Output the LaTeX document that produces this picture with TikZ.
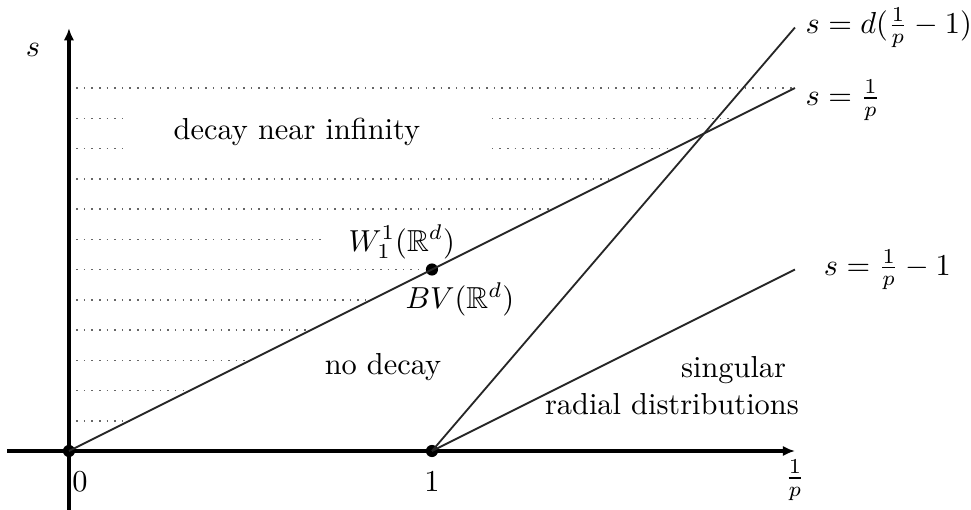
\documentclass[tikz,border=0pt]{standalone}
\usepackage{amsmath}
\usepackage{amssymb}
\usepackage{tikz}
\usetikzlibrary{arrows.meta,positioning}

\begin{document}
\begin{tikzpicture}[x=4.2cm, y=2.1cm,
  axis/.style={line width=1.2pt, -{Latex[length=4pt, width=3.4pt]}},
  curve/.style={line width=0.6pt, black!85},
  dotrow/.style={line width=0.5pt, gray!80!black, dash pattern=on 0.5pt off 2pt},
  pt/.style={circle, fill, inner sep=0pt, minimum size=4pt},
]
  \useasboundingbox (-0.19,-0.325) rectangle (2.485,2.485);

  % axes
  \coordinate (xl) at (-0.17,0);
  \coordinate (xr) at (2,0);
  \coordinate (yb) at (0,-0.325);
  \coordinate (yt) at (0,2.33);
  \draw[axis] (xl) -- (xr);
  \draw[axis] (yb) -- (yt);

  % dotted region s > 1/p
  \foreach \k in {1,...,6,8,9,12}
    \draw[dotrow] (0.02,\k/6) -- (\k/6,\k/6);
  \draw[dotrow] (0.02,7/6) -- (0.70,7/6);
  \foreach \k in {10,11} {
    \draw[dotrow] (0.02,\k/6) -- (0.15,\k/6);
    \draw[dotrow] (1.165,\k/6) -- (\k/6,\k/6);
  }

  \node[pt] (O) at (0,0) {};
  \node[pt] (E) at (1,0) {};
  \node[pt] (W) at (1,1) {};
  \coordinate (A) at (2,2);
  \coordinate (B) at (2,7/3);
  \coordinate (C) at (2,1);

  \draw[curve] (O.center) -- (W.center) -- (A);
  \draw[curve] (E.center) -- (B);
  \draw[curve] (E.center) -- (C);

  \node (dlbl) [right] at (B) {$s=d(\frac{1}{p}-1)$};
  \node (plbl) [right, yshift=-4pt] at (A) {$s=\frac{1}{p}$};
  \node (mlbl) [right, xshift=6pt] at (C) {$s=\frac{1}{p}-1$};

  \node (slbl) at (-0.099,2.21) {$s$};
  \node (far) at (0.628,1.758) {decay near infinity};
  \node (wlbl) at (0.917,1.152) {$W_1^1(\mathbb{R}^d)$};
  \node (bvlbl) at (1.077,0.835) {$BV(\mathbb{R}^d)$};
  \node (nodec) at (0.865,0.463) {no decay};
  \node (sing) at (1.831,0.446) {singular};
  \node (rad) at (1.661,0.259) {radial distributions};
  \node (zero) at (0.03,-0.171) {$0$};
  \node (onelbl) at (1,-0.171) {$1$};
  \node (xlbl) at (2,-0.16) {$\frac{1}{p}$};
\end{tikzpicture}
\end{document}
